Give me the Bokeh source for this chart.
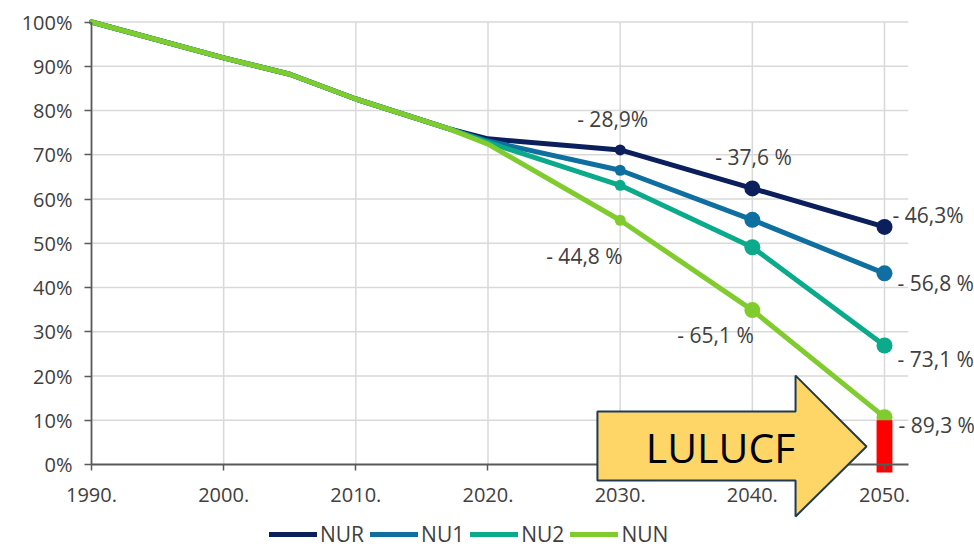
from bokeh.plotting import figure
from bokeh.models import (ColumnDataSource, FixedTicker, Range1d, Legend, LegendItem,
                          LabelSet, Label, PolyAnnotation, LinearAxis)
from bokeh.core.properties import value
from bokeh.embed import file_html
from bokeh.resources import INLINE

# ---------------- data ----------------
years = [1990, 2000, 2005, 2010, 2015, 2017, 2020, 2030, 2040, 2050]
history = [100.0, 91.9, 88.2, 82.6, 77.8, 75.9]
nur = history + [73.6, 71.1, 62.4, 53.7]
nu1 = history + [73.1, 66.5, 55.3, 43.2]
nu2 = history + [72.8, 63.1, 49.1, 26.9]
nun = history + [72.4, 55.2, 34.9, 10.7]
series_names = ["NUR", "NU1", "NU2", "NUN"]
marker_years = [2030, 2040, 2050]

label_series = ["NUR", "NUR", "NUR", "NU1", "NUN", "NUN", "NU2", "NUN"]
label_years = [2030, 2040, 2050, 2050, 2030, 2040, 2050, 2050]
label_texts = ["- 28,9%", "- 37,6 %", "- 46,3%", "- 56,8 %",
               "- 44,8 %", "- 65,1 %", "- 73,1 %", "- 89,3 %"]

lulucf_year = [2050]
lulucf_value = [10.0]

x_ticks = [1990, 2000, 2010, 2020, 2030, 2040, 2050]
x_tick_labels = ["1990.", "2000.", "2010.", "2020.", "2030.", "2040.", "2050."]
y_ticks = [0, 10, 20, 30, 40, 50, 60, 70, 80, 90, 100]
y_tick_labels = ["0%", "10%", "20%", "30%", "40%", "50%", "60%", "70%", "80%", "90%", "100%"]

# ---------------- styles / layout ----------------
colors = {"NUR": "#0b1f5c", "NU1": "#0e6fa0", "NU2": "#0aaa8a", "NUN": "#80cc2e"}
FONT = "Open Sans"
TXT = "#404040"
X0, X1 = 1990, 2051.8       # plotting area extent (years)
Y0, Y1 = 0, 100             # plotting area extent (%)

p = figure(width=974, height=548, output_backend="svg", toolbar_location=None,
           x_range=Range1d(1983.115, 2056.81), y_range=Range1d(-18.98, 104.86),
           x_axis_type=None, y_axis_type=None,
           min_border_left=0, min_border_right=0, min_border_top=0, min_border_bottom=0)
p.outline_line_color = None
p.background_fill_color = "white"
p.border_fill_color = "white"
p.xgrid.visible = False
p.ygrid.visible = False

# grid lines (bounded to the plotting area)
vx = [t for t in x_ticks if t != X0]
p.segment(x0=vx, y0=[Y0] * len(vx), x1=vx, y1=[Y1] * len(vx),
          line_color="#d9d9d9", line_width=1.5)
hy = [t for t in y_ticks if t != Y0]
p.segment(x0=[X0] * len(hy), y0=hy, x1=[X1] * len(hy), y1=hy,
          line_color="#d9d9d9", line_width=1.5)

# axes fixed at the data origin
xaxis = LinearAxis(fixed_location=Y0, bounds=(X0, X1), ticker=FixedTicker(ticks=x_ticks),
                   major_label_overrides={t: l for t, l in zip(x_ticks, x_tick_labels)})
yaxis = LinearAxis(fixed_location=X0, bounds=(Y0, Y1), ticker=FixedTicker(ticks=y_ticks),
                   major_label_overrides={t: l for t, l in zip(y_ticks, y_tick_labels)})
for ax in (xaxis, yaxis):
    ax.axis_line_color = "#595959"
    ax.axis_line_width = 1.8
    ax.major_tick_line_color = "#595959"
    ax.major_tick_line_width = 1.5
    ax.major_tick_in = 0
    ax.minor_tick_line_color = None
    ax.major_label_text_font = FONT
    ax.major_label_text_font_size = "20px"
    ax.major_label_text_color = TXT
yaxis.major_tick_out = 7
yaxis.major_label_standoff = 12
xaxis.major_tick_out = 6
xaxis.major_label_standoff = 17
p.add_layout(xaxis, "below")
p.add_layout(yaxis, "left")

# series
data = {"NUR": nur, "NU1": nu1, "NU2": nu2, "NUN": nun}
legend_items = []
for name in series_names:
    vals = data[name]
    src = ColumnDataSource(dict(x=years, y=vals))
    r = p.line("x", "y", source=src, line_color=colors[name], line_width=5,
               line_cap="round", line_join="round")
    mx = [y for y in years if y in marker_years]
    my = [v for y, v in zip(years, vals) if y in marker_years]
    ms = [11 if y == 2030 else 16 for y in mx]
    msrc = ColumnDataSource(dict(x=mx, y=my, s=ms))
    p.scatter("x", "y", size="s", source=msrc, fill_color=colors[name],
              line_color=colors[name], line_width=0)
    legend_items.append(LegendItem(label=name, renderers=[r]))

# LULUCF red bar
p.vbar(x=lulucf_year, top=lulucf_value, bottom=-1.8, width=1.2,
       fill_color="#ff0000", line_color=None)

# value labels
offsets = {
    ("NUR", 2030): (-43, 31), ("NUR", 2040): (-37, 31), ("NUR", 2050): (8, 12),
    ("NU1", 2050): (13, -10), ("NUN", 2030): (-74, -36), ("NUN", 2040): (-75, -25),
    ("NU2", 2050): (13, -14), ("NUN", 2050): (14, -8),
}
lx, ly, xo, yo = [], [], [], []
for s, yr in zip(label_series, label_years):
    lx.append(yr)
    ly.append(data[s][years.index(yr)])
    xo.append(offsets[(s, yr)][0])
    yo.append(offsets[(s, yr)][1])
lsrc = ColumnDataSource(dict(x=lx, y=ly, t=label_texts, xo=xo, yo=yo))
p.add_layout(LabelSet(x="x", y="y", text="t", source=lsrc, x_offset="xo", y_offset="yo",
                      text_font=value(FONT), text_font_size="21px", text_color=TXT,
                      text_align="left", text_baseline="middle"))

# LULUCF arrow
ax_ = [2028.28, 2043.27, 2043.27, 2048.64, 2043.27, 2043.27, 2028.28]
ay_ = [11.96, 11.96, 20.09, 4.06, -11.74, -3.61, -3.61]
p.add_layout(PolyAnnotation(xs=ax_, ys=ay_, fill_color="#fdd667", fill_alpha=1,
                            line_color="#1f3a55", line_alpha=1, line_width=2))
p.add_layout(Label(x=2037.6, y=4.06, text="LULUCF", text_font=FONT,
                   text_font_size="41px", text_color="#000000",
                   text_align="center", text_baseline="middle"))

# legend
legend = Legend(items=legend_items, orientation="horizontal", location=(269, 0),
                label_text_font=FONT, label_text_font_size="21px", label_text_color=TXT,
                glyph_width=48, glyph_height=18, label_standoff=3, spacing=6,
                padding=0, margin=0, border_line_color=None, background_fill_alpha=0)
p.add_layout(legend, "center")

open("out.html", "w").write(file_html(p, INLINE))
